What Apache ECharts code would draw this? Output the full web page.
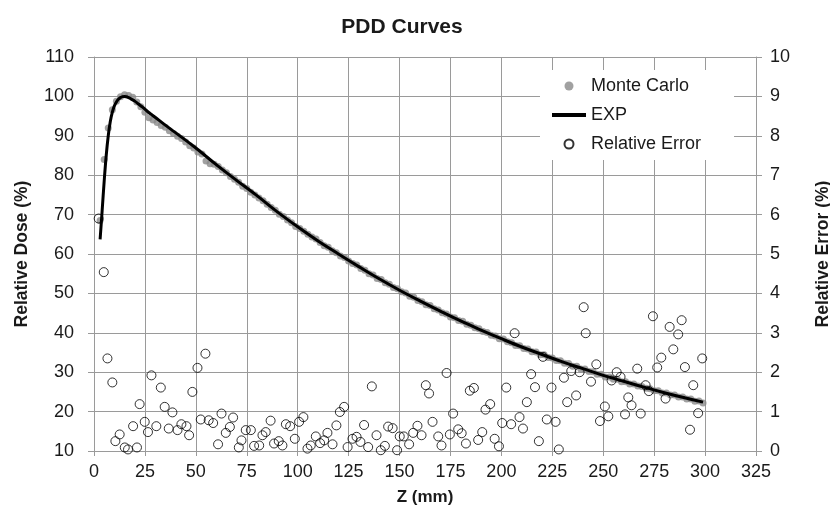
<!DOCTYPE html>
<html>
<head>
<meta charset="utf-8">
<script src="https://cdn.jsdelivr.net/npm/echarts@6/dist/echarts.min.js"></script>
<style>
  html, body { margin: 0; padding: 0; background: #fff; }
  #chart { width: 830px; height: 511px; }
</style>
</head>
<body>
<div id="chart"></div>
<script>
// Monte Carlo depth (mm) and relative dose (%)
var mcDepth = [3,5,7,9,11,13,15,17,19,21,23,25,27,29,31,33,35,37,39,41,43,45,47,49,51,53,55,57,59,61,63,65,67,69,71,73,75,77,79,81,83,85,87,89,91,93,95,97,99,
  101,103,105,107,109,111,113,115,117,119,121,123,125,127,129,131,133,135,137,139,141,143,145,147,149,151,153,155,157,159,161,163,165,167,169,171,173,175,177,179,181,183,185,187,189,191,193,195,197,199,
  201,203,205,207,209,211,213,215,217,219,221,223,225,227,229,231,233,235,237,239,241,243,245,247,249,251,253,255,257,259,261,263,265,267,269,271,273,275,277,279,281,283,285,287,289,291,293,295,297,299];
var mcDose = [68.5,84.0,92.0,96.6,98.8,99.9,100.4,100.2,99.8,98.6,97.4,96.0,94.6,94.0,93.4,92.6,92.2,91.3,90.6,89.9,89.3,88.4,87.5,86.9,85.9,85.4,83.6,82.9,82.8,82.2,81.3,80.6,79.7,79.0,78.2,77.2,76.6,75.7,75.0,74.2,73.5,72.6,71.8,71.1,70.1,69.5,68.6,67.9,67.0,
  66.5,65.8,65.0,64.3,63.8,62.9,62.1,61.7,60.8,60.3,59.5,59.1,58.2,57.6,57.2,56.3,55.9,55.0,54.7,53.8,53.5,52.7,52.3,51.5,51.2,50.4,50.1,49.3,49.0,48.2,47.9,47.1,46.9,46.1,45.8,45.1,44.8,44.0,43.8,43.1,42.9,42.2,41.9,41.3,41.0,40.3,40.1,39.4,39.2,38.5,
  38.4,37.7,37.5,36.8,36.7,36.0,35.9,35.2,35.1,34.4,34.4,33.7,33.6,33.0,32.9,32.3,32.2,31.5,31.5,30.8,30.8,30.2,30.1,29.5,29.5,28.8,28.8,28.2,28.2,27.6,27.6,27.0,27.0,26.5,26.4,25.9,25.8,25.3,25.3,24.7,24.7,24.2,24.2,23.7,23.7,23.2,23.2,22.6,22.7,22.2];

// EXP fit curve
var expDepth = [3,4,5,6,7,8,9,10,11,12,13,14,15,16,17,18,20,22,24,26,28,30,35,40,50,60,70,80,90,100,110,120,130,140,150,160,170,180,190,200,210,220,230,240,250,260,270,280,290,299];
var expDose = [63.7,71.0,78.5,85.0,90.0,93.6,96.0,97.6,98.6,99.3,99.7,99.95,100.0,99.9,99.7,99.4,98.8,98.0,97.2,96.3,95.5,94.7,92.7,90.8,86.9,82.7,78.7,74.8,70.7,66.9,63.3,60.0,56.8,53.7,50.8,48.1,45.5,43.0,40.7,38.5,36.4,34.5,32.6,30.9,29.2,27.7,26.2,24.8,23.5,22.4];

// relative error (%) read per depth (mm)
var errDepth = [2.3,4.8,6.6,9.0,10.5,12.6,15.1,16.7,19.2,21.1,22.4,24.9,26.5,28.2,30.6,32.8,34.7,36.7,38.5,41.0,42.9,45.4,46.7,48.3,50.8,52.4,54.7,56.3,
  58.5,60.9,62.6,64.7,66.7,68.3,71.1,72.4,74.5,77.0,78.6,81.1,82.7,84.3,86.7,88.4,90.7,92.5,94.2,96.3,98.6,100.7,102.8,104.8,106.4,108.9,111.0,113.0,114.6,117.1,119.0,
  120.7,122.8,124.5,126.9,128.9,130.8,132.6,134.6,136.4,138.7,140.8,142.8,144.4,146.6,148.8,150.1,152.1,154.7,156.7,158.8,160.8,162.9,164.5,166.2,169.0,170.6,173.1,174.7,176.3,178.8,180.5,182.6,184.5,186.5,188.6,
  190.6,192.2,194.5,196.7,198.8,200.4,202.4,204.8,206.5,208.9,210.6,212.5,214.6,216.5,218.4,220.4,222.3,224.6,226.6,228.2,230.7,232.3,234.3,236.7,238.4,240.4,241.4,244.0,
  246.6,248.4,250.8,252.5,254.1,256.6,258.5,260.7,262.3,263.9,266.7,268.4,270.8,272.4,274.4,276.5,278.5,280.6,282.6,284.4,286.8,288.5,290.1,292.6,294.2,296.6,298.6];
var errValue = [5.90,4.54,2.35,1.74,0.25,0.42,0.09,0.04,0.63,0.09,1.19,0.74,0.48,1.92,0.63,1.61,1.12,0.57,0.98,0.53,0.68,0.63,0.40,1.50,2.11,0.80,2.47,0.78,
  0.71,0.17,0.95,0.46,0.61,0.85,0.09,0.27,0.53,0.53,0.13,0.14,0.40,0.48,0.77,0.19,0.25,0.14,0.68,0.63,0.31,0.74,0.86,0.06,0.14,0.37,0.20,0.27,0.46,0.17,0.65,
  0.99,1.12,0.10,0.31,0.36,0.23,0.66,0.10,1.64,0.40,0.02,0.13,0.62,0.58,0.02,0.37,0.37,0.17,0.46,0.64,0.40,1.67,1.46,0.74,0.37,0.14,1.98,0.42,0.95,0.55,0.45,0.19,1.53,1.60,0.28,
  0.48,1.05,1.19,0.31,0.12,0.71,1.61,0.68,2.99,0.86,0.57,1.24,1.95,1.62,0.25,2.39,0.80,1.61,0.74,0.04,1.86,1.24,2.03,1.41,2.00,3.65,2.99,1.76,
  2.20,0.76,1.13,0.88,1.79,2.00,1.88,0.93,1.36,1.16,2.09,0.95,1.67,1.52,3.42,2.12,2.37,1.33,3.15,2.58,2.96,3.32,2.13,0.54,1.67,0.96,2.35];

function pairs(xs, ys) {
  var out = [];
  for (var i = 0; i < xs.length; i++) out.push([xs[i], ys[i]]);
  return out;
}

var chart = echarts.init(document.getElementById('chart'));
var textColor = '#1a1a1a';
var gridColor = '#9a9a9a';
var font = 'Liberation Sans, Arial, sans-serif';

chart.setOption({
  animation: false,
  backgroundColor: '#fff',
  textStyle: { fontFamily: font, color: textColor },
  title: {
    text: 'PDD Curves',
    left: 397,
    top: 12,
    textAlign: 'center',
    textStyle: { fontSize: 21, fontWeight: 'bold', color: textColor, fontFamily: font }
  },
  grid: { left: 94, right: 74, top: 57, bottom: 60, outerBoundsMode: 'none' },
  legend: {
    orient: 'vertical',
    left: 540,
    top: 70,
    backgroundColor: '#fff',
    padding: [7, 33, 7, 10],
    itemWidth: 34,
    itemHeight: 9,
    itemGap: 11,
    textStyle: { fontSize: 18, color: textColor, fontFamily: font },
    data: [
      { name: 'Monte Carlo', icon: 'circle' },
      { name: 'EXP', lineStyle: { width: 4, color: '#000' }, itemStyle: { color: 'rgba(0,0,0,0)', borderColor: 'rgba(0,0,0,0)', borderWidth: 0 } },
      { name: 'Relative Error', icon: 'circle' }
    ]
  },
  xAxis: {
    type: 'value',
    min: 0, max: 325, interval: 25,
    name: 'Z (mm)',
    nameLocation: 'middle',
    nameGap: 38,
    nameTextStyle: { fontSize: 17, fontWeight: 'bold', color: textColor },
    axisLine: { lineStyle: { color: gridColor } },
    axisTick: { length: 5, lineStyle: { color: gridColor } },
    axisLabel: { fontSize: 18, color: textColor, margin: 12 },
    splitLine: { show: true, lineStyle: { color: gridColor, width: 1 } }
  },
  yAxis: [
    {
      type: 'value',
      min: 10, max: 110, interval: 10,
      name: 'Relative Dose (%)',
      nameLocation: 'middle',
      nameGap: 63,
      nameTextStyle: { fontSize: 17.5, fontWeight: 'bold', color: textColor },
      axisLine: { show: true, lineStyle: { color: gridColor } },
      axisTick: { show: true, length: 6, lineStyle: { color: gridColor } },
      axisLabel: { fontSize: 18, color: textColor, margin: 20 },
      splitLine: { show: true, lineStyle: { color: gridColor, width: 1 } }
    },
    {
      type: 'value',
      min: 0, max: 10, interval: 1,
      name: 'Relative Error (%)',
      nameLocation: 'middle',
      nameGap: 58,
      nameTextStyle: { fontSize: 17.5, fontWeight: 'bold', color: textColor },
      axisLine: { show: true, lineStyle: { color: gridColor } },
      axisTick: { show: true, length: 6, lineStyle: { color: gridColor } },
      axisLabel: { fontSize: 18, color: textColor, margin: 14 },
      splitLine: { show: false }
    }
  ],
  series: [
    {
      name: 'Monte Carlo',
      type: 'scatter',
      yAxisIndex: 0,
      symbol: 'circle',
      symbolSize: 7,
      itemStyle: { color: '#8a8a8a' },
      data: pairs(mcDepth, mcDose),
      z: 2
    },
    {
      name: 'EXP',
      type: 'line',
      yAxisIndex: 0,
      showSymbol: false,
      symbol: 'none',
      smooth: 0.4,
      lineStyle: { color: '#000', width: 3 },
      itemStyle: { color: '#000' },
      data: pairs(expDepth, expDose),
      z: 3
    },
    {
      name: 'Relative Error',
      type: 'scatter',
      yAxisIndex: 1,
      symbol: 'circle',
      symbolSize: 9,
      itemStyle: { color: 'rgba(0,0,0,0)', borderColor: '#000', borderWidth: 1 },
      data: pairs(errDepth, errValue),
      z: 4
    }
  ]
});
</script>
</body>
</html>
